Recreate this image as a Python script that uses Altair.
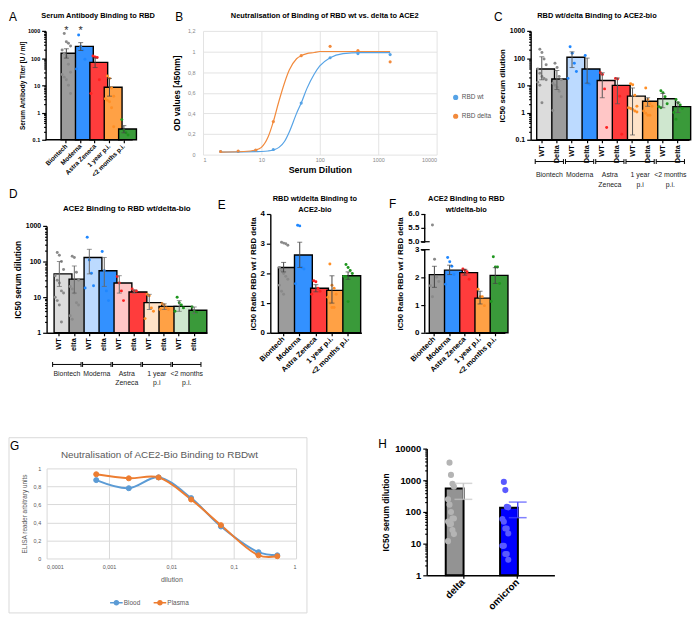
import altair as alt
import pandas as pd

FONT = "Liberation Sans"
ISMAJ = "abs(log(datum.value)/LN10 - round(log(datum.value)/LN10)) < 0.001"
LOG_LABEL = ISMAJ + " ? format(datum.value, '~g') : ''"
COMMA_LABEL = "replace(format(datum.value, '~g'), '.', ',')"

# ---------------- colours ----------------
BAR_DARK = ["#9c9c9c", "#3391ff", "#ff3c3c", "#ffa145", "#3a9a3a"]
BAR_LIGHT = ["#dcdcdc", "#bcdaff", "#ffc6c6", "#ffe3c8", "#cfe7cf"]
PT_DARK = ["#8a8a8a", "#1f87ff", "#ff2020", "#ff8f26", "#1e961e"]

# ---------------- Panel A ----------------
A_CATS = ["Biontech", "Moderna", "Astra Zeneca", "1 year p.i.", "<2 months p.i."]
A_MEAN = [150, 270, 70, 8.5, 0.25]
A_LO = [100, 190, 45, 4.0, 0.18]
A_HI = [220, 370, 100, 18, 0.33]
A_PTS_BIONTECH = [800, 400, 350, 280, 200, 150, 115, 60, 30, 25, 20, 16, 10, 5]
A_PTS_MODERNA = [700, 260, 200, 90, 40]
A_PTS_ASTRA = [120, 110, 105, 16, 5]
A_PTS_1Y = [22, 18, 8, 4, 3.2, 2.8, 2.5, 1.5, 0.3]
A_PTS_2M = [0.55, 0.22, 0.18, 0.15]
A_STAR_CATS = ["Biontech", "Moderna"]

# ---------------- Panel B ----------------
B_DIL = [2, 4, 8, 16, 48, 150, 450, 1600]
B_WT = [0.03, 0.03, 0.04, 0.05, 0.50, 0.94, 0.98, 0.97]
B_DELTA = [0.03, 0.035, 0.045, 0.32, 0.96, 1.05, 1.01, 0.90]
B_FIT_X = [2, 5, 8, 10, 13, 16, 20, 25, 30, 40, 48, 60, 80, 100, 150, 250, 500, 1000, 1600]
B_FIT_WT = [0.025, 0.027, 0.029, 0.03, 0.035, 0.045, 0.07, 0.13, 0.22, 0.40, 0.50,
            0.64, 0.78, 0.86, 0.94, 0.98, 0.99, 0.99, 0.99]
B_FIT_DELTA = [0.025, 0.03, 0.045, 0.07, 0.17, 0.32, 0.52, 0.70, 0.82, 0.93, 0.96,
               0.98, 0.99, 1.0, 1.0, 1.0, 1.0, 1.0, 1.0]

# ---------------- Panel C ----------------
C_GROUPS = ["Biontech", "Moderna", "Astra Zeneca", "1 year p.i", "<2 months p.i."]
C_GROUP_LABELS = ["Biontech", "Moderna", "Astra\nZeneca", "1 year\np.i", "<2 months\np.i."]
C_WT_MEAN = [40, 107, 15, 4, 3.2]
C_WT_LO = [16, 45, 3.5, 0.15, 1.5]
C_WT_HI = [112, 170, 29, 8, 5]
C_DELTA_MEAN = [17, 40, 10, 2.6, 1.65]
C_DELTA_LO = [7, 12, 2.1, 1.7, 1.0]
C_DELTA_HI = [35, 100, 18.6, 3.5, 2.4]
C_WT_PTS = [
    [210, 160, 92, 57, 40, 28, 21, 18, 16, 13, 10, 2.3],
    [260, 150, 65, 32, 18],
    [29, 25, 7.4, 0.28],
    [11.5, 10.5, 4.3, 1.7, 1.5, 1.4, 1.3, 1.15, 1.05],
    [6.3, 5.3, 3.8, 2.1, 1.65, 1.5],
]
C_DELTA_PTS = [
    [65, 45, 21, 16, 12, 10, 8.5, 6, 3.8, 1.2],
    [125, 12, 11],
    [18, 17, 4, 0.16],
    [8, 3, 2.1, 1.7, 1.15, 0.95, 0.8, 0.8],
    [3, 2.3, 1.9, 1.4, 1.0, 0.57],
]

# ---------------- Panel D ----------------
D_GROUP_LABELS = ["Biontech", "Moderna", "Astra\nZeneca", "1 year\np.i", "<2 months\np.i."]
D_WT_MEAN = [45, 130, 25, 7, 5.5]
D_WT_LO = [20, 45, 13, 4.5, 4]
D_WT_HI = [100, 220, 40, 12, 8]
D_DELTA_MEAN = [32, 55, 14, 5.5, 4.3]
D_DELTA_LO = [13, 20, 13, 4.5, 3.5]
D_DELTA_HI = [75, 130, 16, 6.5, 5.3]
D_WT_PTS = [
    [180, 150, 100, 60, 40, 30, 25, 15, 13, 10, 8, 6, 2],
    [480, 110, 47, 21, 18],
    [38, 25, 15, 8],
    [12, 11, 5, 4, 2.5],
    [10, 7, 6, 5, 4],
]
D_DELTA_PTS = [
    [140, 130, 50, 30, 20, 17, 13, 7, 6, 3, 2.4],
    [190, 55, 15, 8],
    [17, 15, 15],
    [6.5, 6, 5, 4.5, 4.5],
    [5.3, 4, 3.8],
]

# ---------------- Panel E ----------------
E_CATS = ["Biontech", "Moderna", "Astra Zeneca", "1 year p.i.", "<2 months p.i."]
E_MEAN = [2.2, 2.62, 1.5, 1.43, 1.92]
E_LO = [2.05, 2.2, 1.38, 1.0, 1.8]
E_HI = [2.37, 3.05, 1.62, 1.92, 2.05]
E_PTS = [
    [3.05, 3.02, 3.0, 2.95, 2.2, 2.1, 2.0, 1.9, 1.8, 1.6, 1.4, 1.3],
    [3.62, 3.6, 2.2, 2.15, 1.65],
    [1.75, 1.72, 1.5, 1.4, 1.3],
    [2.32, 1.6, 1.5, 1.3, 1.2, 1.0, 0.85, 0.85],
    [2.3, 2.2, 2.1, 2.0, 1.9, 1.9, 1.05],
]

# ---------------- Panel F ----------------
F_CATS = ["Biontech", "Moderna", "Astra Zeneca", "1 year p.i.", "<2 months p.i."]
F_MEAN = [2.1, 2.26, 2.17, 1.25, 2.07]
F_LO = [1.64, 2.1, 2.08, 1.04, 1.78]
F_HI = [2.4, 2.44, 2.29, 1.5, 2.35]
F_PTS = [
    [5.6, 2.65, 2.0, 1.85, 1.7, 1.3],
    [2.72, 2.56, 2.4, 2.1, 1.75],
    [2.3, 2.26, 2.2, 1.93],
    [1.57, 1.3, 1.3, 0.98],
    [2.74, 2.37, 2.37, 1.78, 1.13],
]

# ---------------- Panel G ----------------
G_DIL = [0.000625, 0.00208, 0.00625, 0.0208, 0.0625, 0.25, 0.5]
G_BLOOD = [0.87, 0.78, 0.90, 0.67, 0.355, 0.07, 0.035]
G_PLASMA = [0.935, 0.89, 0.90, 0.655, 0.37, 0.035, 0.025]

# ---------------- Panel H ----------------
H_CATS = ["delta", "omicron"]
H_MEAN = [550, 135]
H_LO = [250, 66]
H_HI = [800, 205]
H_PTS_DELTA = [3600, 1480, 780, 630, 250, 170, 100, 62, 62, 50, 42, 42, 27, 20, 12]
H_PTS_OMICRON = [890, 490, 145, 140, 60, 49, 30, 30, 21, 8.5, 8.5, 4.7, 4.7, 3.1]

ONE = pd.DataFrame({"k": [0]})


def log_values(lo_exp, hi_exp):
    vals = []
    for e in range(lo_exp, hi_exp):
        for k in range(1, 10):
            vals.append(round(k * 10 ** e, 6))
    vals.append(round(10 ** hi_exp, 6))
    return vals


def inter(a, b):
    return [v for pair in zip(a, b) for v in pair]


def band_geom(W, n, pi, po):
    step = W / (n - pi + 2 * po)
    return step, step * (1 - pi)


def gp_yaxis(title, values, label_expr, logticks=False, label_size=7, title_size=8,
             offset=0, title_padding=3, domain=True):
    tick_size = {"condition": {"test": ISMAJ, "value": 4}, "value": 2} if logticks else 4
    return alt.Axis(title=title, values=values, labelExpr=label_expr, grid=False,
                    domain=domain, domainColor="black", domainWidth=1.4,
                    ticks=True, tickColor="black", tickWidth=1.2, tickSize=tick_size,
                    labelFont=FONT, labelFontWeight="bold", labelFontSize=label_size,
                    labelColor="black", labelPadding=2, labelOverlap=False,
                    titleFont=FONT, titleFontWeight="bold", titleFontSize=title_size,
                    titleColor="black", titlePadding=title_padding, offset=offset)


def gp_xaxis(angle=-45, size=7.5, label_expr=None, domain=True):
    kw = dict(title=None, labelAngle=angle, labelAlign="right", labelBaseline="middle",
              labelFont=FONT, labelFontWeight="bold", labelFontSize=size, labelColor="black",
              labelPadding=2, labelOverlap=False, domain=domain, domainColor="black",
              domainWidth=1.4, ticks=True, tickColor="black", tickWidth=1.2, tickSize=3)
    if label_expr:
        kw["labelExpr"] = label_expr
    return alt.Axis(**kw)


def bar_layers(cats, means, los, his, fills, pts, pt_cols, *, pi, po, yscale, yaxis, xaxis,
               base, bar_sw=1.4, pt_size=10, err_cols=None, err_w=1.0, cap=5, jit=0.4,
               xrange=None):
    if err_cols is None:
        err_cols = ["#444444"] * len(cats)
    bdf = pd.DataFrame({"cat": cats, "mean": means, "lo": los, "hi": his,
                        "fill": fills, "ecol": err_cols})
    rows = [{"cat": c, "val": v, "col": col}
            for c, vals, col in zip(cats, pts, pt_cols) for v in vals]
    pdf = pd.DataFrame(rows)
    if xrange is None:
        xs = alt.Scale(domain=cats, paddingInner=pi, paddingOuter=po)
    else:
        xs = alt.Scale(domain=cats, paddingInner=pi, paddingOuter=po, range=xrange)

    def X(f):
        return alt.X(f, type="nominal", scale=xs, axis=xaxis)

    def Y(f):
        return alt.Y(f, type="quantitative", scale=yscale, axis=yaxis)

    bars = alt.Chart(bdf).mark_bar(stroke="black", strokeWidth=bar_sw).encode(
        x=X("cat"), y=Y("mean"), y2=alt.datum(base), fill=alt.Fill("fill:N", scale=None))
    points = (alt.Chart(pdf)
              .transform_window(rk="row_number()", groupby=["cat"])
              .transform_calculate(jit=f"((datum.rk % 5) - 2) * {jit}")
              .mark_circle(size=pt_size, opacity=1)
              .encode(x=X("cat"), xOffset=alt.XOffset("jit:Q", scale=alt.Scale(domain=[-1, 1])),
                      y=Y("val"), fill=alt.Fill("col:N", scale=None)))
    err = alt.Chart(bdf).mark_rule(strokeWidth=err_w).encode(
        x=X("cat"), y=Y("lo"), y2="hi:Q", stroke=alt.Stroke("ecol:N", scale=None))
    cap_hi = alt.Chart(bdf).mark_tick(thickness=err_w, size=cap).encode(
        x=X("cat"), y=Y("hi"), fill=alt.Fill("ecol:N", scale=None))
    cap_lo = alt.Chart(bdf).mark_tick(thickness=err_w, size=cap).encode(
        x=X("cat"), y=Y("lo"), fill=alt.Fill("ecol:N", scale=None))
    return [bars, points, err, cap_hi, cap_lo], X, Y


def label_text(txt, x, y, size=12, weight="normal", align="left", color="black", line_height=None):
    kw = dict(text=txt, font=FONT, fontSize=size, fontWeight=weight, align=align,
              baseline="middle" if not isinstance(txt, list) else "top", color=color)
    if line_height:
        kw["lineHeight"] = line_height
    return alt.Chart(ONE).mark_text(**kw).encode(x=alt.value(x), y=alt.value(y))


def brackets(X, labels, cats, W, n, pi, po, yb, yl, size=7, lh=9):
    step, bw = band_geom(W, n, pi, po)
    gdf = pd.DataFrame({"wt": cats[0::2], "delta": cats[1::2], "label": labels})
    ext = bw / 2 + 1.5
    line = alt.Chart(gdf).mark_rule(color="black", strokeWidth=1, xOffset=-ext, x2Offset=ext).encode(
        x=X("wt"), x2="delta:N", y=alt.value(yb))
    c1 = alt.Chart(gdf).mark_rule(color="black", strokeWidth=1, xOffset=-ext).encode(
        x=X("wt"), y=alt.value(yb - 2.5), y2=alt.value(yb + 2.5))
    c2 = alt.Chart(gdf).mark_rule(color="black", strokeWidth=1, xOffset=ext).encode(
        x=X("delta"), y=alt.value(yb - 2.5), y2=alt.value(yb + 2.5))
    txt = alt.Chart(gdf).mark_text(font=FONT, fontSize=size, fill="#222222", baseline="top",
                                   lineBreak="\n", lineHeight=lh, xOffset=step / 2).encode(
        x=X("wt"), y=alt.value(yl), text="label:N")
    return [line, c1, c2, txt]


def spacer(w):
    return alt.Chart(ONE).mark_point(opacity=0).encode(
        x=alt.value(0), y=alt.value(0)).properties(width=w, height=10)


# ======================= Panel A =======================
# group starts 11px left of the first bar region (GraphPad style gap)
A_W, A_H, A_GAP = 87, 110, 11
a_layers, aX, aY = bar_layers(
    A_CATS, A_MEAN, A_LO, A_HI, BAR_DARK,
    [A_PTS_BIONTECH, A_PTS_MODERNA, A_PTS_ASTRA, A_PTS_1Y, A_PTS_2M], PT_DARK,
    pi=0.27, po=0.25, xrange=[A_GAP, A_W],
    yscale=alt.Scale(type="log", domain=[0.1, 1000], nice=False),
    yaxis=gp_yaxis("Serum Antibody Titer [U / ml]", log_values(-1, 3), LOG_LABEL, True,
                   label_size=5.5, title_size=6.5, offset=1, title_padding=2),
    xaxis=gp_xaxis(-45, 6.5, domain=False), base=0.1, pt_size=9)
a_line = alt.Chart(ONE).mark_rule(color="black", strokeWidth=1.4).encode(
    x=alt.value(-1), x2=alt.value(A_W), y=alt.value(A_H))
a_star = alt.Chart(pd.DataFrame({"cat": A_STAR_CATS, "y": [1000, 1000]})).mark_text(
    text="*", font=FONT, fontSize=11, fill="#333333", baseline="middle").encode(
    x=aX("cat"), y=aY("y"))
panel_a = alt.layer(
    *a_layers, a_line, a_star,
    label_text("A", -38, -14),
    label_text("Serum Antibody Binding to RBD", 52, -15, size=7.5, weight="bold", align="center"),
).properties(width=A_W, height=A_H)

# ======================= Panel B =======================
B_W, B_H = 236, 125
b_col = alt.Scale(domain=["RBD wt", "RBD delta"], range=["#56a3e6", "#f28a3c"])
b_leg = alt.Legend(title=None, orient="none", legendX=252, legendY=64, labelFont=FONT,
                   labelFontSize=6.5, labelColor="#555555", symbolSize=14, symbolType="circle",
                   rowPadding=8, labelOffset=3)
b_x = alt.X("dil:Q", scale=alt.Scale(type="log", domain=[1, 10000], nice=False),
            axis=alt.Axis(values=[1, 10, 100, 1000, 10000], format="d", grid=True,
                          gridColor="#e3e3e3", domain=False, ticks=False, labelFont=FONT,
                          labelFontSize=5.5, labelColor="#888888", labelPadding=3,
                          title="Serum Dilution", titleFont=FONT, titleFontSize=9,
                          titleFontWeight="bold", titleColor="black", titlePadding=3))
b_y = alt.Y("od:Q", scale=alt.Scale(domain=[0, 1.2], nice=False),
            axis=alt.Axis(values=[0, 0.2, 0.4, 0.6, 0.8, 1, 1.2], labelExpr=COMMA_LABEL,
                          grid=True, gridColor="#e3e3e3", domain=False, ticks=False,
                          labelFont=FONT, labelFontSize=5.5, labelColor="#888888",
                          labelPadding=8, title="OD values [450nm]", titleFont=FONT,
                          titleFontSize=8.5, titleFontWeight="bold", titleColor="black",
                          titlePadding=6))
bfit = pd.DataFrame({"dil": B_FIT_X * 2, "od": B_FIT_WT + B_FIT_DELTA,
                     "ser": ["RBD wt"] * len(B_FIT_X) + ["RBD delta"] * len(B_FIT_X)})
bpts = pd.DataFrame({"dil": B_DIL * 2, "od": B_WT + B_DELTA,
                     "ser": ["RBD wt"] * len(B_DIL) + ["RBD delta"] * len(B_DIL)})
b_lines = alt.Chart(bfit).mark_line(interpolate="monotone", strokeWidth=1.2).encode(
    x=b_x, y=b_y, color=alt.Color("ser:N", scale=b_col, legend=b_leg))
b_pts = alt.Chart(bpts).mark_circle(size=10, opacity=1).encode(
    x=b_x, y=b_y, color=alt.Color("ser:N", scale=b_col, legend=b_leg))
panel_b = alt.layer(
    b_lines, b_pts,
    label_text("B", -28, -14),
    label_text("Neutralisation of Binding of RBD wt vs. delta to ACE2", 123, -15, size=7.5,
               weight="bold", align="center"),
).properties(width=B_W, height=B_H)

# ======================= Panel C =======================
C_W, C_H = 160, 110
C_PI, C_PO = 0.33, 0.4
C_CATS = [f"{g}|{v}" for g in C_GROUPS for v in ("WT", "Delta")]
c_layers, cX, cY = bar_layers(
    C_CATS, inter(C_WT_MEAN, C_DELTA_MEAN), inter(C_WT_LO, C_DELTA_LO),
    inter(C_WT_HI, C_DELTA_HI), inter(BAR_LIGHT, BAR_DARK),
    inter(C_WT_PTS, C_DELTA_PTS), inter(PT_DARK, PT_DARK),
    pi=C_PI, po=C_PO,
    yscale=alt.Scale(type="log", domain=[0.1, 1000], nice=False),
    yaxis=gp_yaxis("IC50 serum dilution", log_values(-1, 3), LOG_LABEL, True,
                   label_size=7, title_size=8),
    xaxis=gp_xaxis(-90, 7.5, "split(datum.value, '|')[1]"), base=0.1, pt_size=9,
    err_cols=["#555555"] * 10)
panel_c = alt.layer(
    *c_layers,
    *brackets(cX, C_GROUP_LABELS, C_CATS, C_W, 10, C_PI, C_PO, C_H + 22, C_H + 32, lh=10),
    label_text("C", -37, -14),
    label_text("RBD wt/delta Binding to ACE2-bio", 67, -15, size=7.5, weight="bold",
               align="center"),
).properties(width=C_W, height=C_H)

# ======================= Panel D =======================
D_W, D_H = 162, 120
D_PI, D_PO = 0.3, 0.5
D_CATS = [f"{g}|{v}" for g in C_GROUPS for v in ("WT", "Delta")]
d_layers, dX, dY = bar_layers(
    D_CATS, inter(D_WT_MEAN, D_DELTA_MEAN), inter(D_WT_LO, D_DELTA_LO),
    inter(D_WT_HI, D_DELTA_HI), inter(BAR_LIGHT, BAR_DARK),
    inter(D_WT_PTS, D_DELTA_PTS), inter(PT_DARK, PT_DARK),
    pi=D_PI, po=D_PO,
    yscale=alt.Scale(type="log", domain=[1, 1000], range=[120, 12], nice=False),
    yaxis=gp_yaxis("IC50 serum dilution", log_values(0, 3), LOG_LABEL, True,
                   label_size=7, title_size=8.5),
    xaxis=gp_xaxis(-90, 7.5, "split(datum.value, '|')[1] == 'Delta' ? 'elta' : 'WT'"),
    base=1, pt_size=9, err_cols=["#666666"] * 10)
panel_d = alt.layer(
    *d_layers,
    *brackets(dX, D_GROUP_LABELS, D_CATS, D_W, 10, D_PI, D_PO, D_H + 32, D_H + 38, lh=9),
    label_text("D", -38, -20),
    label_text("ACE2 Binding to RBD wt/delta-bio", 81, -5, size=8, weight="bold",
               align="center"),
).properties(width=D_W, height=D_H)

# ======================= Panel E =======================
E_W, E_H = 92, 120
e_layers, eX, eY = bar_layers(
    E_CATS, E_MEAN, E_LO, E_HI, BAR_DARK, E_PTS, PT_DARK, pi=0.35, po=0.5,
    yscale=alt.Scale(domain=[0, 4], nice=False),
    yaxis=gp_yaxis("IC50 Ratio RBD wt / RBD delta", [0, 1, 2, 3, 4], "format(datum.value, 'd')",
                   label_size=8, title_size=8),
    xaxis=gp_xaxis(-45, 7.5), base=0, pt_size=9)
panel_e = alt.layer(
    *e_layers,
    label_text("E", -53, -9),
    label_text(["RBD wt/delta Binding to", "ACE2-bio"], 45, -19, size=7.5, weight="bold",
               align="center", line_height=11),
).properties(width=E_W, height=E_H)

# ======================= Panel F =======================
F_W, F_H = 81, 120
f_scale = alt.Scale(domain=[0, 3, 5, 6], range=[120, 36, 28, 0], nice=False, zero=False)
f_axis = gp_yaxis("IC50 Ratio RBD wt / RBD delta", [0, 1, 2, 3, 5, 5.5, 6],
                  "datum.value >= 5 ? format(datum.value, '.1f') : format(datum.value, 'd')",
                  label_size=8, title_size=8, domain=False)
f_layers, fX, fY = bar_layers(
    F_CATS, F_MEAN, F_LO, F_HI, BAR_DARK, F_PTS, PT_DARK, pi=0.33, po=0.3,
    yscale=f_scale, yaxis=f_axis, xaxis=gp_xaxis(-45, 7.5), base=0, pt_size=9)
f_dom = alt.Chart(pd.DataFrame({"a": [0, 5], "b": [3, 6]})).mark_rule(
    color="black", strokeWidth=1.4).encode(x=alt.value(0), y=fY("a"), y2="b:Q")
f_brk = alt.Chart(pd.DataFrame({"v": [3, 5]})).mark_rule(color="black", strokeWidth=1.2).encode(
    x=alt.value(-4), x2=alt.value(5), y=fY("v"))
panel_f = alt.layer(
    *f_layers, f_dom, f_brk,
    label_text("F", -36, -10),
    label_text(["ACE2 Binding to RBD", "wt/delta-bio"], 42, -19, size=7.5, weight="bold",
               align="center", line_height=11),
).properties(width=F_W, height=F_H)

# ======================= Panel G =======================
G_W, G_H = 252, 91
GRAY = "#595959"
g_col = alt.Scale(domain=["Blood", "Plasma"], range=["#5b9bd5", "#ed7d31"])
g_leg = alt.Legend(title=None, orient="none", legendX=66, legendY=G_H + 40,
                   direction="horizontal",
                   symbolType="M-1.8,0H1.8M0.6,0A0.6,0.6,0,1,1,-0.6,0A0.6,0.6,0,1,1,0.6,0",
                   symbolSize=50, symbolStrokeWidth=1.5, labelFont=FONT, labelFontSize=6.5,
                   labelColor=GRAY, columnPadding=10, labelOffset=3)
g_x = alt.X("dil:Q", scale=alt.Scale(type="log", domain=[0.0001, 1], nice=False),
            axis=alt.Axis(values=[0.0001, 0.001, 0.01, 0.1, 1], labelExpr=COMMA_LABEL,
                          grid=True, gridColor="#d9d9d9", domain=False, ticks=False,
                          labelFont=FONT, labelFontSize=5.5, labelColor=GRAY, labelPadding=6,
                          title="dilution", titleFont=FONT, titleFontSize=7,
                          titleFontWeight="normal", titleColor=GRAY, titlePadding=6))
g_y = alt.Y("val:Q", scale=alt.Scale(domain=[0, 1], nice=False),
            axis=alt.Axis(values=[0, 0.2, 0.4, 0.6, 0.8, 1], labelExpr=COMMA_LABEL,
                          grid=True, gridColor="#d9d9d9", domain=False, ticks=False,
                          labelFont=FONT, labelFontSize=5.5, labelColor=GRAY, labelPadding=6,
                          title="ELISA reader arbitrary units", titleFont=FONT,
                          titleFontSize=6.5, titleFontWeight="normal", titleColor=GRAY,
                          titlePadding=6))
gdf = pd.DataFrame({"dil": G_DIL * 2, "val": G_BLOOD + G_PLASMA,
                    "ser": ["Blood"] * len(G_DIL) + ["Plasma"] * len(G_DIL)})
g_box = alt.Chart(ONE).mark_rect(fillOpacity=0, stroke="#d9d9d9", strokeWidth=1).encode(
    x=alt.value(-38), x2=alt.value(263), y=alt.value(-31), y2=alt.value(146))
g_lines = alt.Chart(gdf).mark_line(interpolate="catmull-rom", strokeWidth=2).encode(
    x=g_x, y=g_y, color=alt.Color("ser:N", scale=g_col, legend=g_leg))
g_pts = alt.Chart(gdf).mark_point(filled=True, size=26, strokeWidth=1, opacity=1).encode(
    x=g_x, y=g_y, color=alt.Color("ser:N", scale=g_col, legend=g_leg),
    stroke=alt.Stroke("ser:N", scale=g_col, legend=g_leg))
panel_g = alt.layer(
    g_box, g_lines, g_pts,
    label_text("G", -37, -23),
    label_text("Neutralisation of ACE2-Bio Binding to RBDwt", 114, -14, size=10,
               align="center", color=GRAY),
).properties(width=G_W, height=G_H)

# ======================= Panel H =======================
H_W, H_H = 129, 108
h_layers, hX, hY = bar_layers(
    H_CATS, H_MEAN, H_LO, H_HI, ["#939393", "#0000ff"], [H_PTS_DELTA, H_PTS_OMICRON],
    ["#b4b4b4", "#5a5aff"], pi=0.35, po=0.35,
    yscale=alt.Scale(type="log", domain=[1, 10000], range=[108, -20], nice=False),
    yaxis=gp_yaxis("IC50 serum dilution", log_values(0, 4), LOG_LABEL, True,
                   label_size=9.5, title_size=8.5, title_padding=4),
    xaxis=gp_xaxis(-45, 10), base=1, bar_sw=2, pt_size=38,
    err_cols=["#c4c4c4", "#4b4bff"], err_w=1.5, cap=18, jit=0.28)
panel_h = alt.layer(
    *h_layers,
    label_text("H", -49, -25),
).properties(width=H_W, height=H_H)

# ======================= layout =======================
IND = dict(color="independent", stroke="independent", fill="independent")
row1 = alt.hconcat(panel_a, spacer(1), panel_b, spacer(25), panel_c,
                   spacing=35, bounds="flush").resolve_scale(**IND)
row2 = alt.hconcat(panel_d, panel_e, panel_f, spacing=64, bounds="flush").resolve_scale(**IND)
row3 = alt.hconcat(panel_g, panel_h, spacing=132, bounds="flush").resolve_scale(**IND)
top = alt.vconcat(row1, row2, spacing=0).resolve_scale(**IND)

chart = (
    alt.vconcat(top, row3, spacing=51)
    .resolve_scale(**IND)
    .properties(padding=0)
    .configure(font=FONT)
    .configure_view(stroke=None)
)

chart.save("out.html", embed_options={"renderer": "svg", "actions": False})
